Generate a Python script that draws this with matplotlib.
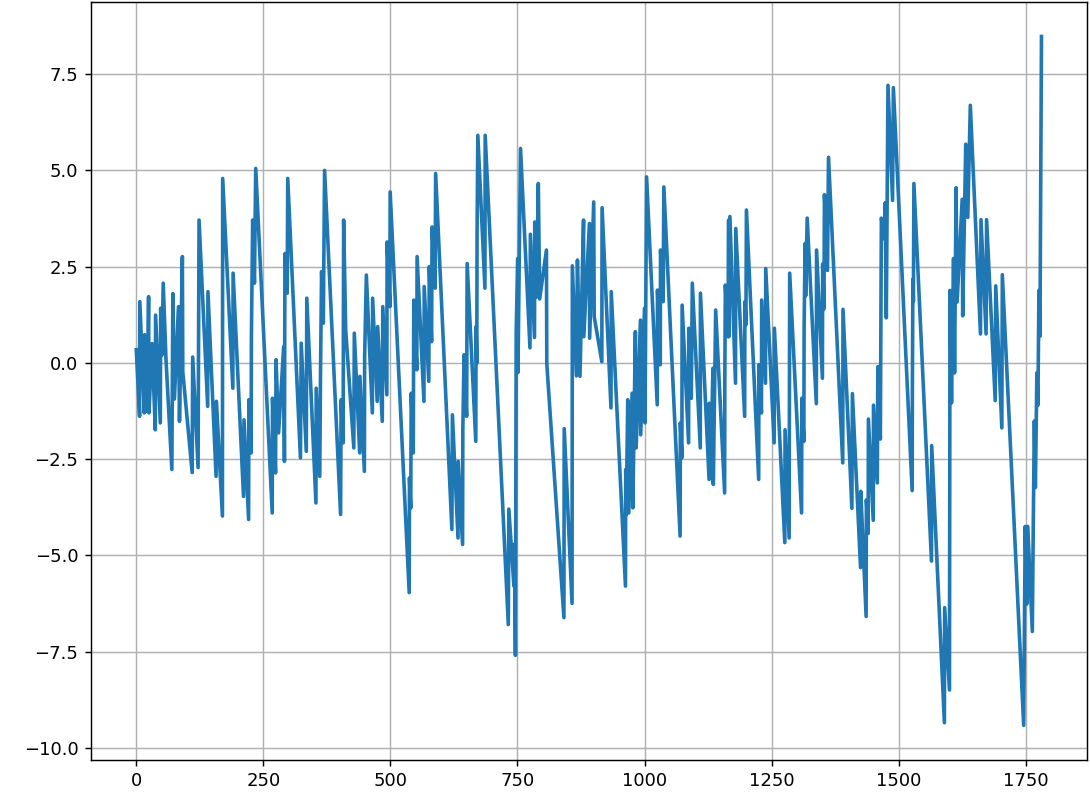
import matplotlib
matplotlib.use("Agg")
import matplotlib.pyplot as plt

# vertices (x position, value)
x_vals = [
    0, 6.5, 7, 15.8, 16.4, 21.7, 24.2, 25, 31, 37.4, 38, 47.3, 48, 50.5, 53, 58.5,
    70, 72, 75, 83, 85, 90.7, 91.5, 110, 111, 121.6, 123.5, 140.5, 141, 157, 157.7,
    169.5, 170, 190, 190.5, 211, 212, 221, 221.5, 226, 226.5, 229, 232.5, 235,
    267.5, 268, 274, 275, 280, 290, 291.5, 292.5, 297, 298, 323, 324.5, 334.5,
    335.5, 353.5, 354, 361, 362.5, 364.6, 368, 370.5, 402, 403, 407, 408, 412,
    428, 429, 439.5, 440, 448.8, 449.3, 452.7, 464.5, 465, 474, 475, 484, 485,
    493, 493.5, 499, 499.5, 537, 537.5, 540, 541, 545, 546, 552, 552.5, 566,
    566.5, 575.5, 576.5, 581, 582, 588, 589, 621, 622, 633, 633.5, 642, 642.5,
    645, 650, 651, 668, 668.5, 670, 670.5, 672, 686, 686.5, 732, 733, 743, 744,
    746, 747, 747.5, 750.5, 751, 756, 774.6, 775.4, 783.5, 784, 787.5, 791,
    793.7, 807, 807.7, 841.4, 842, 857.4, 858, 866, 868, 873, 880, 880.5, 891.6,
    892, 900, 901, 916, 916.5, 934, 934.5, 962.5, 963, 964, 967, 969, 975.6, 977,
    982, 983.5, 992, 992.5, 1000, 1001, 1004, 1025, 1025.5, 1031, 1031.5, 1036.7,
    1038, 1070, 1070.5, 1073.5, 1074, 1086.7, 1087, 1092, 1094, 1109.7, 1110,
    1127, 1127.5, 1130, 1134.6, 1135.3, 1140, 1157.6, 1158, 1159, 1164.3, 1165.5,
    1166, 1168, 1179, 1179.5, 1197, 1197.5, 1199.5, 1200.5, 1224.6, 1225, 1230,
    1230.5, 1238, 1238.5, 1255, 1255.5, 1276, 1276.5, 1284.5, 1285.6, 1309,
    1309.5, 1313.5, 1314, 1316, 1317, 1320, 1338, 1338.5, 1350, 1350.5, 1353,
    1354, 1360, 1362, 1390, 1390.5, 1408, 1409, 1425, 1425.5, 1436, 1436.5, 1440,
    1440.5, 1450, 1450.5, 1458, 1459, 1464, 1466, 1472, 1473.5, 1475.7, 1479,
    1488, 1489.6, 1526.6, 1527, 1528, 1529, 1530, 1564.6, 1565, 1590, 1590.5,
    1600, 1601, 1604, 1608, 1610, 1613, 1615, 1625, 1626, 1632, 1636, 1641, 1661,
    1662, 1672, 1673, 1690, 1691, 1703, 1704, 1746, 1749, 1752, 1754, 1763, 1765,
    1767, 1769, 1772, 1774, 1776, 1778, 1781,
]
y_vals = [
    0.34, -1.39, 1.59, -1.30, 0.73, -1.26, 1.72, -1.30, 0.50, -1.74, 1.24, -1.56,
    1.42, 0.2, 2.07, 0.08, -2.77, 1.80, -0.94, 1.46, -1.52, 2.76, -0.23, -2.85,
    0.15, -2.72, 3.71, -1.13, 1.85, -2.95, -1.0, -3.98, 4.79, -0.66, 2.33, -3.47,
    -1.48, -4.07, -0.96, -2.34, 0.64, 3.71, 2.07, 5.05, -3.9, -0.92, -2.86, 0.08,
    -1.82, 0.42, -2.56, 2.84, 1.81, 4.79, -2.47, 0.51, -2.3, 1.68, -3.64, -0.66,
    -2.95, -0.26, 2.37, 1.03, 5.0, -3.94, -0.96, -2.08, 3.71, 0.86, -2.21, 0.77,
    -2.34, -0.35, -2.82, 0.16, 2.28, -1.3, 1.68, -1.0, 0.94, -1.52, 1.46, -0.83,
    3.14, 1.46, 4.44, -5.97, -2.99, -3.77, -0.79, -2.34, 1.63, -0.18, 2.76, -1.0,
    1.98, -0.48, 2.5, 0.55, 3.53, 1.94, 4.92, -4.33, -1.35, -4.55, -2.56, -4.72,
    -1.74, 0.21, -1.39, 2.58, -2.04, 0.94, -0.01, 3.32, 5.91, 1.94, 5.91, -6.8,
    -3.8, -5.8, -4.71, -7.6, -1.98, 0.8, 2.71, -0.25, 5.57, 0.39, 3.34, 0.66,
    3.66, 1.71, 4.66, 1.66, 2.93, -0.02, -6.62, -1.71, -6.25, 2.52, -0.34, 2.67,
    -0.35, 3.71, 0.68, 3.62, 0.64, 4.18, 1.2, 0.03, 4.03, -1.17, 1.85, -5.8,
    -2.77, -3.94, -0.96, -3.9, -0.79, -3.77, 0.81, -2.21, 1.11, -1.87, 1.42,
    -1.56, 4.83, -1.09, 1.89, -0.05, 2.93, 1.59, 4.57, -4.5, -1.56, -2.47, 1.5,
    -2.08, 0.9, -0.92, 2.07, -2.21, 1.81, -3.03, -1.05, -3.0, -0.14, -3.16, 1.37,
    -3.38, -0.4, 2.02, 0.68, 3.71, 0.68, 3.8, -0.53, 3.49, -1.39, 1.59, 0.99,
    3.97, -3.03, -0.05, -1.3, 1.63, -0.53, 2.45, -2.08, 0.9, -4.67, -1.74, -4.55,
    2.33, -3.9, -0.92, -2.04, 0.94, 3.1, 1.74, 3.76, -1.06, 2.93, -0.4, 2.57,
    1.4, 4.37, 2.4, 5.34, -2.6, 1.39, -3.78, -0.8, -5.32, -3.34, -6.59, -3.56,
    -4.43, -1.46, -4.09, -1.1, -3.12, -0.1, -1.98, 3.76, 3.22, 4.16, 1.17, 7.21,
    4.22, 7.15, -3.32, -0.71, 2.17, 1.6, 4.66, -5.15, -2.15, -9.35, -6.36, -8.5,
    1.88, -1.04, 2.71, -0.26, 4.55, 1.58, 4.25, 1.22, 5.68, 3.78, 6.69, 0.75,
    3.72, 0.75, 3.72, -0.98, 2.0, -1.69, 2.29, -9.42, -4.25, -6.27, -4.25, -6.98,
    -4.01, -1.51, -3.24, -0.26, -1.1, 1.88, 0.69, 8.48,
]

dpi = 130
fig = plt.figure(figsize=(1090 / dpi, 799 / dpi), dpi=dpi)
ax = fig.add_axes([0.0835, 0.049, 0.9135, 0.9485])

ax.plot(x_vals, y_vals, color='#1f77b4', linewidth=2.0)
ax.set_xticks([0, 250, 500, 750, 1000, 1250, 1500, 1750])
ax.set_yticks([-10.0, -7.5, -5.0, -2.5, 0.0, 2.5, 5.0, 7.5])
ax.grid(True)

fig.savefig("out.png", dpi=dpi)
